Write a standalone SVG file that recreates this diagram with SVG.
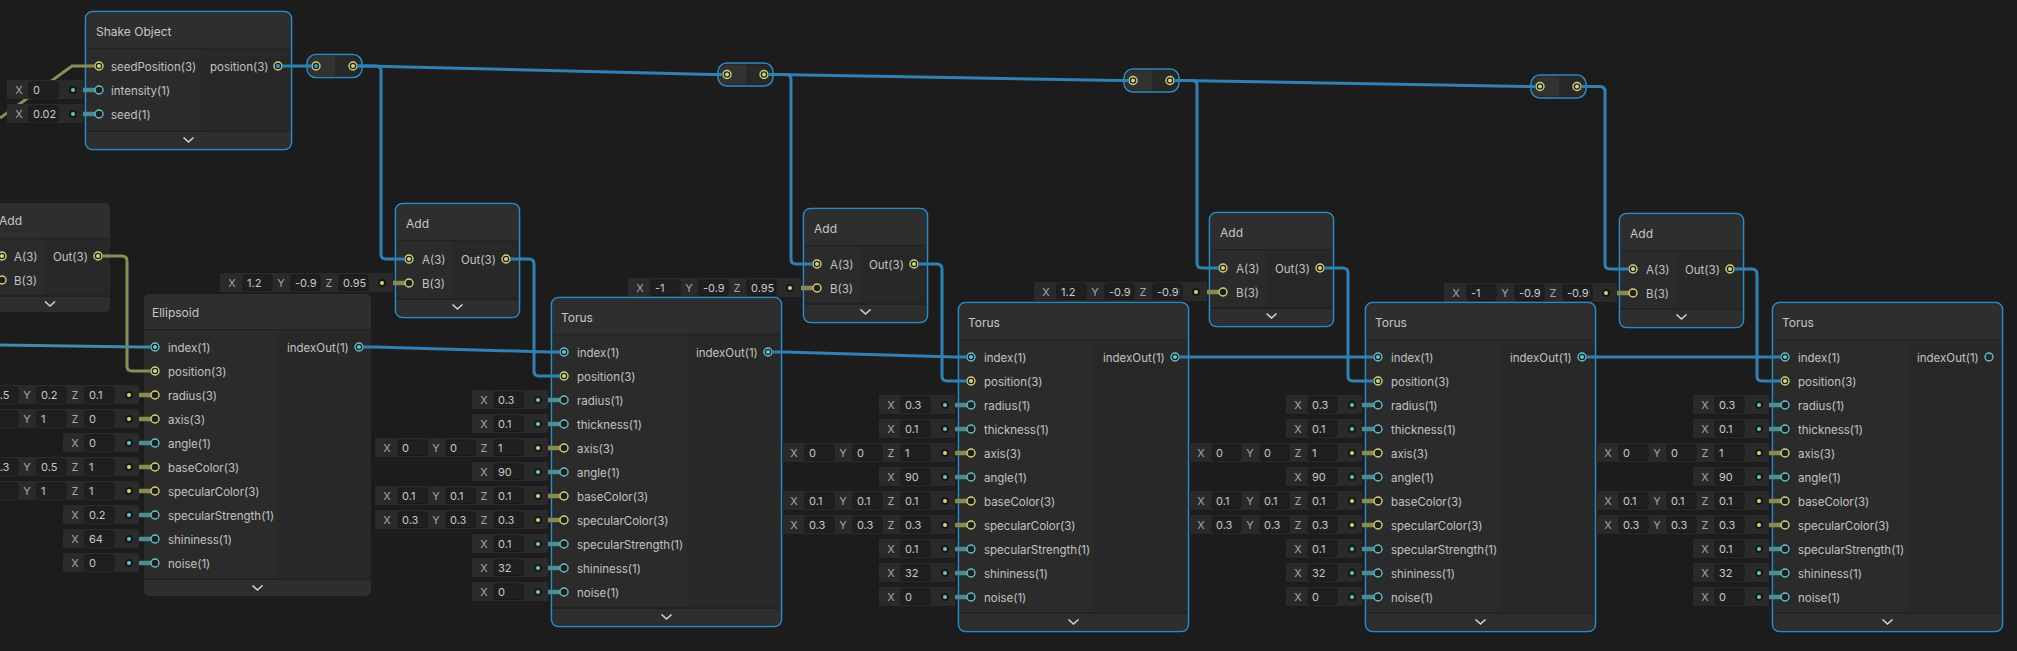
<svg xmlns="http://www.w3.org/2000/svg" width="2017" height="651" viewBox="0 0 2017 651">
<defs>
<style>
.bg{fill:#1c1c1c}
.nb{fill:#2e2e2e}
.sep{fill:#222222}
.ic{fill:#2b2b2b}
.oc{fill:#282828}
.sel{fill:none;stroke:#2f88c0;stroke-width:1.6}
.t{font-family:Inter,'Noto Sans',sans-serif;font-size:11.5px;fill:#c2c2c2}
.ti{font-family:Inter,'Noto Sans',sans-serif;font-size:12px;fill:#c6c6c6}
.ax{font-family:Inter,'Noto Sans',sans-serif;font-size:11px;fill:#a6a6a6;text-anchor:middle}
.v{font-family:Inter,'Noto Sans',sans-serif;font-size:11px;fill:#c8c8c8}
.box{fill:#2a2a2a}
.fld{fill:#1f1f1f;stroke:#181818;stroke-width:1}
.rt{fill:#1e1e1e;stroke:#64c0ca;stroke-width:1.4}
.ry{fill:#1e1e1e;stroke:#d2d37c;stroke-width:1.4}
.dt{fill:#64c0ca}
.dy{fill:#d2d37c}
.db{fill:#2f9be0}
.vd{fill:#171717}
.st{fill:none;stroke:#4a8c93;stroke-width:4.5}
.so{fill:none;stroke:#8a8a50;stroke-width:4.5}
.chev{fill:none;stroke:#d4d4d4;stroke-width:1.6}
.rl{fill:#323232}
.rr{fill:#282828}
.e{fill:none;stroke:#2f80b3;stroke-width:3;stroke-linejoin:round}
.et{fill:none;stroke:#3d8ea6;stroke-width:3}
.eo{fill:none;stroke:#8c8c55;stroke-width:3}
</style>
<clipPath id="c3"><rect x="1153" y="284" width="27" height="16"/></clipPath>
<clipPath id="c4"><rect x="1563" y="285" width="27" height="16"/></clipPath>
<mask id="m19" maskUnits="userSpaceOnUse" x="-10" y="40" width="120" height="100">
<rect x="-10" y="40" width="120" height="100" fill="#fff"/>
<rect x="7" y="80" width="76" height="19" fill="#000"/>
<rect x="7" y="104" width="76" height="19" fill="#000"/>
</mask>
</defs>
<rect class="bg" x="0" y="0" width="2017" height="651"/>

<g id="node-shake-object">
<rect class="nb" x="87" y="13" width="203" height="135" rx="5"/>
<rect class="sep" x="87" y="48" width="203" height="1.5"/>
<rect class="ic" x="87" y="49.5" width="114" height="80.5"/>
<rect class="oc" x="201" y="49.5" width="89" height="80.5"/>
<rect class="sep" x="87" y="130" width="203" height="2"/>
<rect class="sel" x="85.5" y="11.5" width="206" height="138" rx="7"/>
<text class="ti" x="96" y="36">Shake Object</text>
<path class="chev" d="M183.5,137.5 L188.5,142 L193.5,137.5"/>
<circle class="ry" cx="99" cy="66" r="4"/><circle class="dy" cx="99" cy="66" r="2"/>
<text class="t" x="111" y="71">seedPosition(3)</text>
<text class="t" x="111" y="95">intensity(1)</text>
<text class="t" x="111" y="119">seed(1)</text>
<text class="t" x="210" y="71">position(3)</text>
<circle class="ry" cx="278" cy="66" r="4"/><circle class="db" cx="278" cy="66" r="2"/>
<rect class="box" x="7" y="80" width="76" height="19"/><text class="ax" x="19" y="94">X</text><rect class="fld" x="29" y="82" width="29" height="15.5" rx="2"/><text class="v" x="33" y="94">0</text><circle class="vd" cx="73" cy="90" r="4"/><circle class="dt" cx="73" cy="90" r="2"/><path class="st" d="M83,90H95"/>
<circle class="rt" cx="99" cy="90" r="4"/>
<rect class="box" x="7" y="104" width="76" height="19"/><text class="ax" x="19" y="118">X</text><rect class="fld" x="29" y="106" width="29" height="15.5" rx="2"/><text class="v" x="33" y="118">0.02</text><circle class="vd" cx="73" cy="114" r="4"/><circle class="dt" cx="73" cy="114" r="2"/><path class="st" d="M83,114H95"/>
<circle class="rt" cx="99" cy="114" r="4"/>
</g>

<g id="node-relay-1">
<rect class="rr" x="308.5" y="56" width="52" height="20" rx="8"/>
<rect class="rl" x="308.5" y="56" width="26.5" height="20" rx="8"/>
<rect class="rl" x="327" y="56" width="8" height="20"/>
<rect class="sel" x="307" y="54.5" width="55" height="23" rx="9"/>
<circle class="ry" cx="316" cy="66" r="4"/><circle class="db" cx="316" cy="66" r="2"/>
<circle class="ry" cx="353" cy="66" r="4"/><circle class="dy" cx="353" cy="66" r="2"/>
</g>
<g id="node-relay-2">
<rect class="rr" x="719.5" y="64.5" width="52" height="20" rx="8"/>
<rect class="rl" x="719.5" y="64.5" width="26.5" height="20" rx="8"/>
<rect class="rl" x="738" y="64.5" width="8" height="20"/>
<rect class="sel" x="718" y="63" width="55" height="23" rx="9"/>
<circle class="ry" cx="727" cy="74.5" r="4"/><circle class="dy" cx="727" cy="74.5" r="2"/>
<circle class="ry" cx="764" cy="74.5" r="4"/><circle class="dy" cx="764" cy="74.5" r="2"/>
</g>
<g id="node-relay-3">
<rect class="rr" x="1125.5" y="70.5" width="52" height="20" rx="8"/>
<rect class="rl" x="1125.5" y="70.5" width="26.5" height="20" rx="8"/>
<rect class="rl" x="1144" y="70.5" width="8" height="20"/>
<rect class="sel" x="1124" y="69" width="55" height="23" rx="9"/>
<circle class="ry" cx="1133" cy="80.5" r="4"/><circle class="dy" cx="1133" cy="80.5" r="2"/>
<circle class="ry" cx="1170" cy="80.5" r="4"/><circle class="dy" cx="1170" cy="80.5" r="2"/>
</g>
<g id="node-relay-4">
<rect class="rr" x="1532.5" y="76.5" width="52" height="20" rx="8"/>
<rect class="rl" x="1532.5" y="76.5" width="26.5" height="20" rx="8"/>
<rect class="rl" x="1551" y="76.5" width="8" height="20"/>
<rect class="sel" x="1531" y="75" width="55" height="23" rx="9"/>
<circle class="ry" cx="1540" cy="86.5" r="4"/><circle class="dy" cx="1540" cy="86.5" r="2"/>
<circle class="ry" cx="1577" cy="86.5" r="4"/><circle class="dy" cx="1577" cy="86.5" r="2"/>
</g>

<g id="node-add-0">
<rect class="nb" x="-14" y="203" width="124" height="109" rx="5"/>
<rect class="sep" x="-14" y="238" width="124" height="1.5"/>
<rect class="ic" x="-14" y="239.5" width="58" height="55.5"/>
<rect class="oc" x="44" y="239.5" width="66" height="55.5"/>
<rect class="sep" x="-14" y="295" width="124" height="2"/>
<text class="ti" x="-1" y="225">Add</text>
<path class="chev" d="M45,301.5 L50,306 L55,301.5"/>
<circle class="ry" cx="2" cy="256" r="4"/><circle class="dy" cx="2" cy="256" r="2"/>
<text class="t" x="14" y="261">A(3)</text>
<circle class="ry" cx="2" cy="280" r="4"/>
<text class="t" x="14" y="285">B(3)</text>
<text class="t" x="53" y="261">Out(3)</text>
<circle class="ry" cx="98" cy="256" r="4"/><circle class="dy" cx="98" cy="256" r="2"/>
</g>

<g id="node-ellipsoid">
<rect class="nb" x="144" y="294" width="227" height="302" rx="5"/>
<rect class="sep" x="144" y="329" width="227" height="1.5"/>
<rect class="ic" x="144" y="330.5" width="134" height="247.5"/>
<rect class="oc" x="278" y="330.5" width="93" height="247.5"/>
<rect class="sep" x="144" y="578" width="227" height="2"/>
<text class="ti" x="152" y="317">Ellipsoid</text>
<path class="chev" d="M252.5,585.5 L257.5,590 L262.5,585.5"/>
<text class="t" x="168" y="352">index(1)</text>
<text class="t" x="168" y="376">position(3)</text>
<text class="t" x="168" y="400">radius(3)</text>
<text class="t" x="168" y="424">axis(3)</text>
<text class="t" x="168" y="448">angle(1)</text>
<text class="t" x="168" y="472">baseColor(3)</text>
<text class="t" x="168" y="496">specularColor(3)</text>
<text class="t" x="168" y="520">specularStrength(1)</text>
<text class="t" x="168" y="544">shininess(1)</text>
<text class="t" x="168" y="568">noise(1)</text>
<text class="t" x="287" y="352">indexOut(1)</text>
<circle class="rt" cx="359" cy="347" r="4"/><circle class="dt" cx="359" cy="347" r="2"/>
<circle class="rt" cx="155" cy="347" r="4"/><circle class="dt" cx="155" cy="347" r="2"/>
<circle class="ry" cx="155" cy="371" r="4"/><circle class="dy" cx="155" cy="371" r="2"/>
<rect class="box" x="-34" y="385" width="173" height="19"/><text class="ax" x="-22" y="399">X</text><rect class="fld" x="-11" y="387" width="29" height="15.5" rx="2"/><text class="v" x="-7" y="399">0.5</text><text class="ax" x="27" y="399">Y</text><rect class="fld" x="37" y="387" width="29" height="15.5" rx="2"/><text class="v" x="41" y="399">0.2</text><text class="ax" x="75" y="399">Z</text><rect class="fld" x="85" y="387" width="29" height="15.5" rx="2"/><text class="v" x="89" y="399">0.1</text><circle class="vd" cx="129" cy="395" r="4"/><circle class="dy" cx="129" cy="395" r="2"/><path class="so" d="M139,395H151"/>
<circle class="ry" cx="155" cy="395" r="4"/>
<rect class="box" x="-34" y="409" width="173" height="19"/><text class="ax" x="-22" y="423">X</text><rect class="fld" x="-11" y="411" width="29" height="15.5" rx="2"/><text class="v" x="-7" y="423">0</text><text class="ax" x="27" y="423">Y</text><rect class="fld" x="37" y="411" width="29" height="15.5" rx="2"/><text class="v" x="41" y="423">1</text><text class="ax" x="75" y="423">Z</text><rect class="fld" x="85" y="411" width="29" height="15.5" rx="2"/><text class="v" x="89" y="423">0</text><circle class="vd" cx="129" cy="419" r="4"/><circle class="dy" cx="129" cy="419" r="2"/><path class="so" d="M139,419H151"/>
<circle class="ry" cx="155" cy="419" r="4"/>
<rect class="box" x="63" y="433" width="76" height="19"/><text class="ax" x="75" y="447">X</text><rect class="fld" x="85" y="435" width="29" height="15.5" rx="2"/><text class="v" x="89" y="447">0</text><circle class="vd" cx="129" cy="443" r="4"/><circle class="dt" cx="129" cy="443" r="2"/><path class="st" d="M139,443H151"/>
<circle class="rt" cx="155" cy="443" r="4"/>
<rect class="box" x="-34" y="457" width="173" height="19"/><text class="ax" x="-22" y="471">X</text><rect class="fld" x="-11" y="459" width="29" height="15.5" rx="2"/><text class="v" x="-7" y="471">0.3</text><text class="ax" x="27" y="471">Y</text><rect class="fld" x="37" y="459" width="29" height="15.5" rx="2"/><text class="v" x="41" y="471">0.5</text><text class="ax" x="75" y="471">Z</text><rect class="fld" x="85" y="459" width="29" height="15.5" rx="2"/><text class="v" x="89" y="471">1</text><circle class="vd" cx="129" cy="467" r="4"/><circle class="dy" cx="129" cy="467" r="2"/><path class="so" d="M139,467H151"/>
<circle class="ry" cx="155" cy="467" r="4"/>
<rect class="box" x="-34" y="481" width="173" height="19"/><text class="ax" x="-22" y="495">X</text><rect class="fld" x="-11" y="483" width="29" height="15.5" rx="2"/><text class="v" x="-7" y="495">1</text><text class="ax" x="27" y="495">Y</text><rect class="fld" x="37" y="483" width="29" height="15.5" rx="2"/><text class="v" x="41" y="495">1</text><text class="ax" x="75" y="495">Z</text><rect class="fld" x="85" y="483" width="29" height="15.5" rx="2"/><text class="v" x="89" y="495">1</text><circle class="vd" cx="129" cy="491" r="4"/><circle class="dy" cx="129" cy="491" r="2"/><path class="so" d="M139,491H151"/>
<circle class="ry" cx="155" cy="491" r="4"/>
<rect class="box" x="63" y="505" width="76" height="19"/><text class="ax" x="75" y="519">X</text><rect class="fld" x="85" y="507" width="29" height="15.5" rx="2"/><text class="v" x="89" y="519">0.2</text><circle class="vd" cx="129" cy="515" r="4"/><circle class="dt" cx="129" cy="515" r="2"/><path class="st" d="M139,515H151"/>
<circle class="rt" cx="155" cy="515" r="4"/>
<rect class="box" x="63" y="529" width="76" height="19"/><text class="ax" x="75" y="543">X</text><rect class="fld" x="85" y="531" width="29" height="15.5" rx="2"/><text class="v" x="89" y="543">64</text><circle class="vd" cx="129" cy="539" r="4"/><circle class="dt" cx="129" cy="539" r="2"/><path class="st" d="M139,539H151"/>
<circle class="rt" cx="155" cy="539" r="4"/>
<rect class="box" x="63" y="553" width="76" height="19"/><text class="ax" x="75" y="567">X</text><rect class="fld" x="85" y="555" width="29" height="15.5" rx="2"/><text class="v" x="89" y="567">0</text><circle class="vd" cx="129" cy="563" r="4"/><circle class="dt" cx="129" cy="563" r="2"/><path class="st" d="M139,563H151"/>
<circle class="rt" cx="155" cy="563" r="4"/>
</g>

<g id="node-add-1">
<rect class="nb" x="397" y="205" width="121" height="111" rx="5"/>
<rect class="sep" x="397" y="240" width="121" height="1.5"/>
<rect class="ic" x="397" y="241.5" width="55" height="56.5"/>
<rect class="oc" x="452" y="241.5" width="66" height="56.5"/>
<rect class="sep" x="397" y="298" width="121" height="2"/>
<rect class="sel" x="395.5" y="203.5" width="124" height="114" rx="7"/>
<text class="ti" x="406" y="228">Add</text>
<path class="chev" d="M452.5,304.5 L457.5,309 L462.5,304.5"/>
<circle class="ry" cx="409" cy="259" r="4"/><circle class="dy" cx="409" cy="259" r="2"/>
<text class="t" x="422" y="264">A(3)</text>
<text class="t" x="422" y="288">B(3)</text>
<text class="t" x="461" y="264">Out(3)</text>
<circle class="ry" cx="506" cy="259" r="4"/><circle class="dy" cx="506" cy="259" r="2"/>
<rect class="box" x="220" y="273" width="173" height="19"/><text class="ax" x="232" y="287">X</text><rect class="fld" x="243" y="275" width="29" height="15.5" rx="2"/><text class="v" x="247" y="287">1.2</text><text class="ax" x="281" y="287">Y</text><rect class="fld" x="291" y="275" width="29" height="15.5" rx="2"/><text class="v" x="295" y="287">-0.9</text><text class="ax" x="329" y="287">Z</text><rect class="fld" x="339" y="275" width="29" height="15.5" rx="2"/><text class="v" x="343" y="287">0.95</text><circle class="vd" cx="382" cy="283" r="4"/><circle class="dy" cx="382" cy="283" r="2"/><path class="so" d="M393,283H405"/>
<circle class="ry" cx="409" cy="283" r="4"/>
</g>

<g id="node-add-2">
<rect class="nb" x="805" y="210" width="121" height="111" rx="5"/>
<rect class="sep" x="805" y="245" width="121" height="1.5"/>
<rect class="ic" x="805" y="246.5" width="55" height="56.5"/>
<rect class="oc" x="860" y="246.5" width="66" height="56.5"/>
<rect class="sep" x="805" y="303" width="121" height="2"/>
<rect class="sel" x="803.5" y="208.5" width="124" height="114" rx="7"/>
<text class="ti" x="814" y="233">Add</text>
<path class="chev" d="M860.5,309.5 L865.5,314 L870.5,309.5"/>
<circle class="ry" cx="817" cy="264" r="4"/><circle class="dy" cx="817" cy="264" r="2"/>
<text class="t" x="830" y="269">A(3)</text>
<text class="t" x="830" y="293">B(3)</text>
<text class="t" x="869" y="269">Out(3)</text>
<circle class="ry" cx="914" cy="264" r="4"/><circle class="dy" cx="914" cy="264" r="2"/>
<rect class="box" x="628" y="278" width="173" height="19"/><text class="ax" x="640" y="292">X</text><rect class="fld" x="651" y="280" width="29" height="15.5" rx="2"/><text class="v" x="655" y="292">-1</text><text class="ax" x="689" y="292">Y</text><rect class="fld" x="699" y="280" width="29" height="15.5" rx="2"/><text class="v" x="703" y="292">-0.9</text><text class="ax" x="737" y="292">Z</text><rect class="fld" x="747" y="280" width="29" height="15.5" rx="2"/><text class="v" x="751" y="292">0.95</text><circle class="vd" cx="790" cy="288" r="4"/><circle class="dy" cx="790" cy="288" r="2"/><path class="so" d="M801,288H813"/>
<circle class="ry" cx="817" cy="288" r="4"/>
</g>

<g id="node-add-3">
<rect class="nb" x="1211" y="214" width="121" height="111" rx="5"/>
<rect class="sep" x="1211" y="249" width="121" height="1.5"/>
<rect class="ic" x="1211" y="250.5" width="55" height="56.5"/>
<rect class="oc" x="1266" y="250.5" width="66" height="56.5"/>
<rect class="sep" x="1211" y="307" width="121" height="2"/>
<rect class="sel" x="1209.5" y="212.5" width="124" height="114" rx="7"/>
<text class="ti" x="1220" y="237">Add</text>
<path class="chev" d="M1266.5,313.5 L1271.5,318 L1276.5,313.5"/>
<circle class="ry" cx="1223" cy="268" r="4"/><circle class="dy" cx="1223" cy="268" r="2"/>
<text class="t" x="1236" y="273">A(3)</text>
<text class="t" x="1236" y="297">B(3)</text>
<text class="t" x="1275" y="273">Out(3)</text>
<circle class="ry" cx="1320" cy="268" r="4"/><circle class="dy" cx="1320" cy="268" r="2"/>
<rect class="box" x="1034" y="282" width="173" height="19"/><text class="ax" x="1046" y="296">X</text><rect class="fld" x="1057" y="284" width="29" height="15.5" rx="2"/><text class="v" x="1061" y="296">1.2</text><text class="ax" x="1095" y="296">Y</text><rect class="fld" x="1105" y="284" width="29" height="15.5" rx="2"/><text class="v" x="1109" y="296">-0.9</text><text class="ax" x="1143" y="296">Z</text><rect class="fld" x="1153" y="284" width="29" height="15.5" rx="2"/><text class="v" x="1157" y="296" clip-path="url(#c3)">-0.95</text><circle class="vd" cx="1196" cy="292" r="4"/><circle class="dy" cx="1196" cy="292" r="2"/><path class="so" d="M1207,292H1219"/>
<circle class="ry" cx="1223" cy="292" r="4"/>
</g>

<g id="node-add-4">
<rect class="nb" x="1621" y="215" width="121" height="111" rx="5"/>
<rect class="sep" x="1621" y="250" width="121" height="1.5"/>
<rect class="ic" x="1621" y="251.5" width="55" height="56.5"/>
<rect class="oc" x="1676" y="251.5" width="66" height="56.5"/>
<rect class="sep" x="1621" y="308" width="121" height="2"/>
<rect class="sel" x="1619.5" y="213.5" width="124" height="114" rx="7"/>
<text class="ti" x="1630" y="238">Add</text>
<path class="chev" d="M1676.5,314.5 L1681.5,319 L1686.5,314.5"/>
<circle class="ry" cx="1633" cy="269" r="4"/><circle class="dy" cx="1633" cy="269" r="2"/>
<text class="t" x="1646" y="274">A(3)</text>
<text class="t" x="1646" y="298">B(3)</text>
<text class="t" x="1685" y="274">Out(3)</text>
<circle class="ry" cx="1730" cy="269" r="4"/><circle class="dy" cx="1730" cy="269" r="2"/>
<rect class="box" x="1444" y="283" width="173" height="19"/><text class="ax" x="1456" y="297">X</text><rect class="fld" x="1467" y="285" width="29" height="15.5" rx="2"/><text class="v" x="1471" y="297">-1</text><text class="ax" x="1505" y="297">Y</text><rect class="fld" x="1515" y="285" width="29" height="15.5" rx="2"/><text class="v" x="1519" y="297">-0.9</text><text class="ax" x="1553" y="297">Z</text><rect class="fld" x="1563" y="285" width="29" height="15.5" rx="2"/><text class="v" x="1567" y="297" clip-path="url(#c4)">-0.95</text><circle class="vd" cx="1606" cy="293" r="4"/><circle class="dy" cx="1606" cy="293" r="2"/><path class="so" d="M1617,293H1629"/>
<circle class="ry" cx="1633" cy="293" r="4"/>
</g>

<g id="node-torus-1">
<rect class="nb" x="553" y="299" width="227" height="326" rx="5"/>
<rect class="sep" x="553" y="334" width="227" height="1.5"/>
<rect class="ic" x="553" y="335.5" width="134" height="271.5"/>
<rect class="oc" x="687" y="335.5" width="93" height="271.5"/>
<rect class="sep" x="553" y="607" width="227" height="2"/>
<rect class="sel" x="551.5" y="297.5" width="230" height="329" rx="7"/>
<text class="ti" x="561" y="322">Torus</text>
<path class="chev" d="M661.5,614.5 L666.5,619 L671.5,614.5"/>
<text class="t" x="577" y="357">index(1)</text>
<text class="t" x="577" y="381">position(3)</text>
<text class="t" x="577" y="405">radius(1)</text>
<text class="t" x="577" y="429">thickness(1)</text>
<text class="t" x="577" y="453">axis(3)</text>
<text class="t" x="577" y="477">angle(1)</text>
<text class="t" x="577" y="501">baseColor(3)</text>
<text class="t" x="577" y="525">specularColor(3)</text>
<text class="t" x="577" y="549">specularStrength(1)</text>
<text class="t" x="577" y="573">shininess(1)</text>
<text class="t" x="577" y="597">noise(1)</text>
<text class="t" x="696" y="357">indexOut(1)</text>
<circle class="rt" cx="768" cy="352" r="4"/><circle class="dt" cx="768" cy="352" r="2"/>
<circle class="rt" cx="564" cy="352" r="4"/><circle class="dt" cx="564" cy="352" r="2"/>
<circle class="ry" cx="564" cy="376" r="4"/><circle class="dy" cx="564" cy="376" r="2"/>
<rect class="box" x="472" y="390" width="76" height="19"/><text class="ax" x="484" y="404">X</text><rect class="fld" x="494" y="392" width="29" height="15.5" rx="2"/><text class="v" x="498" y="404">0.3</text><circle class="vd" cx="538" cy="400" r="4"/><circle class="dt" cx="538" cy="400" r="2"/><path class="st" d="M548,400H560"/>
<circle class="rt" cx="564" cy="400" r="4"/>
<rect class="box" x="472" y="414" width="76" height="19"/><text class="ax" x="484" y="428">X</text><rect class="fld" x="494" y="416" width="29" height="15.5" rx="2"/><text class="v" x="498" y="428">0.1</text><circle class="vd" cx="538" cy="424" r="4"/><circle class="dt" cx="538" cy="424" r="2"/><path class="st" d="M548,424H560"/>
<circle class="rt" cx="564" cy="424" r="4"/>
<rect class="box" x="375" y="438" width="173" height="19"/><text class="ax" x="387" y="452">X</text><rect class="fld" x="398" y="440" width="29" height="15.5" rx="2"/><text class="v" x="402" y="452">0</text><text class="ax" x="436" y="452">Y</text><rect class="fld" x="446" y="440" width="29" height="15.5" rx="2"/><text class="v" x="450" y="452">0</text><text class="ax" x="484" y="452">Z</text><rect class="fld" x="494" y="440" width="29" height="15.5" rx="2"/><text class="v" x="498" y="452">1</text><circle class="vd" cx="538" cy="448" r="4"/><circle class="dy" cx="538" cy="448" r="2"/><path class="so" d="M548,448H560"/>
<circle class="ry" cx="564" cy="448" r="4"/>
<rect class="box" x="472" y="462" width="76" height="19"/><text class="ax" x="484" y="476">X</text><rect class="fld" x="494" y="464" width="29" height="15.5" rx="2"/><text class="v" x="498" y="476">90</text><circle class="vd" cx="538" cy="472" r="4"/><circle class="dt" cx="538" cy="472" r="2"/><path class="st" d="M548,472H560"/>
<circle class="rt" cx="564" cy="472" r="4"/>
<rect class="box" x="375" y="486" width="173" height="19"/><text class="ax" x="387" y="500">X</text><rect class="fld" x="398" y="488" width="29" height="15.5" rx="2"/><text class="v" x="402" y="500">0.1</text><text class="ax" x="436" y="500">Y</text><rect class="fld" x="446" y="488" width="29" height="15.5" rx="2"/><text class="v" x="450" y="500">0.1</text><text class="ax" x="484" y="500">Z</text><rect class="fld" x="494" y="488" width="29" height="15.5" rx="2"/><text class="v" x="498" y="500">0.1</text><circle class="vd" cx="538" cy="496" r="4"/><circle class="dy" cx="538" cy="496" r="2"/><path class="so" d="M548,496H560"/>
<circle class="ry" cx="564" cy="496" r="4"/>
<rect class="box" x="375" y="510" width="173" height="19"/><text class="ax" x="387" y="524">X</text><rect class="fld" x="398" y="512" width="29" height="15.5" rx="2"/><text class="v" x="402" y="524">0.3</text><text class="ax" x="436" y="524">Y</text><rect class="fld" x="446" y="512" width="29" height="15.5" rx="2"/><text class="v" x="450" y="524">0.3</text><text class="ax" x="484" y="524">Z</text><rect class="fld" x="494" y="512" width="29" height="15.5" rx="2"/><text class="v" x="498" y="524">0.3</text><circle class="vd" cx="538" cy="520" r="4"/><circle class="dy" cx="538" cy="520" r="2"/><path class="so" d="M548,520H560"/>
<circle class="ry" cx="564" cy="520" r="4"/>
<rect class="box" x="472" y="534" width="76" height="19"/><text class="ax" x="484" y="548">X</text><rect class="fld" x="494" y="536" width="29" height="15.5" rx="2"/><text class="v" x="498" y="548">0.1</text><circle class="vd" cx="538" cy="544" r="4"/><circle class="dt" cx="538" cy="544" r="2"/><path class="st" d="M548,544H560"/>
<circle class="rt" cx="564" cy="544" r="4"/>
<rect class="box" x="472" y="558" width="76" height="19"/><text class="ax" x="484" y="572">X</text><rect class="fld" x="494" y="560" width="29" height="15.5" rx="2"/><text class="v" x="498" y="572">32</text><circle class="vd" cx="538" cy="568" r="4"/><circle class="dt" cx="538" cy="568" r="2"/><path class="st" d="M548,568H560"/>
<circle class="rt" cx="564" cy="568" r="4"/>
<rect class="box" x="472" y="582" width="76" height="19"/><text class="ax" x="484" y="596">X</text><rect class="fld" x="494" y="584" width="29" height="15.5" rx="2"/><text class="v" x="498" y="596">0</text><circle class="vd" cx="538" cy="592" r="4"/><circle class="dt" cx="538" cy="592" r="2"/><path class="st" d="M548,592H560"/>
<circle class="rt" cx="564" cy="592" r="4"/>
</g>

<g id="node-torus-2">
<rect class="nb" x="960" y="304" width="227" height="326" rx="5"/>
<rect class="sep" x="960" y="339" width="227" height="1.5"/>
<rect class="ic" x="960" y="340.5" width="134" height="271.5"/>
<rect class="oc" x="1094" y="340.5" width="93" height="271.5"/>
<rect class="sep" x="960" y="612" width="227" height="2"/>
<rect class="sel" x="958.5" y="302.5" width="230" height="329" rx="7"/>
<text class="ti" x="968" y="327">Torus</text>
<path class="chev" d="M1068.5,619.5 L1073.5,624 L1078.5,619.5"/>
<text class="t" x="984" y="362">index(1)</text>
<text class="t" x="984" y="386">position(3)</text>
<text class="t" x="984" y="410">radius(1)</text>
<text class="t" x="984" y="434">thickness(1)</text>
<text class="t" x="984" y="458">axis(3)</text>
<text class="t" x="984" y="482">angle(1)</text>
<text class="t" x="984" y="506">baseColor(3)</text>
<text class="t" x="984" y="530">specularColor(3)</text>
<text class="t" x="984" y="554">specularStrength(1)</text>
<text class="t" x="984" y="578">shininess(1)</text>
<text class="t" x="984" y="602">noise(1)</text>
<text class="t" x="1103" y="362">indexOut(1)</text>
<circle class="rt" cx="1175" cy="357" r="4"/><circle class="dt" cx="1175" cy="357" r="2"/>
<circle class="rt" cx="971" cy="357" r="4"/><circle class="dt" cx="971" cy="357" r="2"/>
<circle class="ry" cx="971" cy="381" r="4"/><circle class="dy" cx="971" cy="381" r="2"/>
<rect class="box" x="879" y="395" width="76" height="19"/><text class="ax" x="891" y="409">X</text><rect class="fld" x="901" y="397" width="29" height="15.5" rx="2"/><text class="v" x="905" y="409">0.3</text><circle class="vd" cx="945" cy="405" r="4"/><circle class="dt" cx="945" cy="405" r="2"/><path class="st" d="M955,405H967"/>
<circle class="rt" cx="971" cy="405" r="4"/>
<rect class="box" x="879" y="419" width="76" height="19"/><text class="ax" x="891" y="433">X</text><rect class="fld" x="901" y="421" width="29" height="15.5" rx="2"/><text class="v" x="905" y="433">0.1</text><circle class="vd" cx="945" cy="429" r="4"/><circle class="dt" cx="945" cy="429" r="2"/><path class="st" d="M955,429H967"/>
<circle class="rt" cx="971" cy="429" r="4"/>
<rect class="box" x="782" y="443" width="173" height="19"/><text class="ax" x="794" y="457">X</text><rect class="fld" x="805" y="445" width="29" height="15.5" rx="2"/><text class="v" x="809" y="457">0</text><text class="ax" x="843" y="457">Y</text><rect class="fld" x="853" y="445" width="29" height="15.5" rx="2"/><text class="v" x="857" y="457">0</text><text class="ax" x="891" y="457">Z</text><rect class="fld" x="901" y="445" width="29" height="15.5" rx="2"/><text class="v" x="905" y="457">1</text><circle class="vd" cx="945" cy="453" r="4"/><circle class="dy" cx="945" cy="453" r="2"/><path class="so" d="M955,453H967"/>
<circle class="ry" cx="971" cy="453" r="4"/>
<rect class="box" x="879" y="467" width="76" height="19"/><text class="ax" x="891" y="481">X</text><rect class="fld" x="901" y="469" width="29" height="15.5" rx="2"/><text class="v" x="905" y="481">90</text><circle class="vd" cx="945" cy="477" r="4"/><circle class="dt" cx="945" cy="477" r="2"/><path class="st" d="M955,477H967"/>
<circle class="rt" cx="971" cy="477" r="4"/>
<rect class="box" x="782" y="491" width="173" height="19"/><text class="ax" x="794" y="505">X</text><rect class="fld" x="805" y="493" width="29" height="15.5" rx="2"/><text class="v" x="809" y="505">0.1</text><text class="ax" x="843" y="505">Y</text><rect class="fld" x="853" y="493" width="29" height="15.5" rx="2"/><text class="v" x="857" y="505">0.1</text><text class="ax" x="891" y="505">Z</text><rect class="fld" x="901" y="493" width="29" height="15.5" rx="2"/><text class="v" x="905" y="505">0.1</text><circle class="vd" cx="945" cy="501" r="4"/><circle class="dy" cx="945" cy="501" r="2"/><path class="so" d="M955,501H967"/>
<circle class="ry" cx="971" cy="501" r="4"/>
<rect class="box" x="782" y="515" width="173" height="19"/><text class="ax" x="794" y="529">X</text><rect class="fld" x="805" y="517" width="29" height="15.5" rx="2"/><text class="v" x="809" y="529">0.3</text><text class="ax" x="843" y="529">Y</text><rect class="fld" x="853" y="517" width="29" height="15.5" rx="2"/><text class="v" x="857" y="529">0.3</text><text class="ax" x="891" y="529">Z</text><rect class="fld" x="901" y="517" width="29" height="15.5" rx="2"/><text class="v" x="905" y="529">0.3</text><circle class="vd" cx="945" cy="525" r="4"/><circle class="dy" cx="945" cy="525" r="2"/><path class="so" d="M955,525H967"/>
<circle class="ry" cx="971" cy="525" r="4"/>
<rect class="box" x="879" y="539" width="76" height="19"/><text class="ax" x="891" y="553">X</text><rect class="fld" x="901" y="541" width="29" height="15.5" rx="2"/><text class="v" x="905" y="553">0.1</text><circle class="vd" cx="945" cy="549" r="4"/><circle class="dt" cx="945" cy="549" r="2"/><path class="st" d="M955,549H967"/>
<circle class="rt" cx="971" cy="549" r="4"/>
<rect class="box" x="879" y="563" width="76" height="19"/><text class="ax" x="891" y="577">X</text><rect class="fld" x="901" y="565" width="29" height="15.5" rx="2"/><text class="v" x="905" y="577">32</text><circle class="vd" cx="945" cy="573" r="4"/><circle class="dt" cx="945" cy="573" r="2"/><path class="st" d="M955,573H967"/>
<circle class="rt" cx="971" cy="573" r="4"/>
<rect class="box" x="879" y="587" width="76" height="19"/><text class="ax" x="891" y="601">X</text><rect class="fld" x="901" y="589" width="29" height="15.5" rx="2"/><text class="v" x="905" y="601">0</text><circle class="vd" cx="945" cy="597" r="4"/><circle class="dt" cx="945" cy="597" r="2"/><path class="st" d="M955,597H967"/>
<circle class="rt" cx="971" cy="597" r="4"/>
</g>

<g id="node-torus-3">
<rect class="nb" x="1367" y="304" width="227" height="326" rx="5"/>
<rect class="sep" x="1367" y="339" width="227" height="1.5"/>
<rect class="ic" x="1367" y="340.5" width="134" height="271.5"/>
<rect class="oc" x="1501" y="340.5" width="93" height="271.5"/>
<rect class="sep" x="1367" y="612" width="227" height="2"/>
<rect class="sel" x="1365.5" y="302.5" width="230" height="329" rx="7"/>
<text class="ti" x="1375" y="327">Torus</text>
<path class="chev" d="M1475.5,619.5 L1480.5,624 L1485.5,619.5"/>
<text class="t" x="1391" y="362">index(1)</text>
<text class="t" x="1391" y="386">position(3)</text>
<text class="t" x="1391" y="410">radius(1)</text>
<text class="t" x="1391" y="434">thickness(1)</text>
<text class="t" x="1391" y="458">axis(3)</text>
<text class="t" x="1391" y="482">angle(1)</text>
<text class="t" x="1391" y="506">baseColor(3)</text>
<text class="t" x="1391" y="530">specularColor(3)</text>
<text class="t" x="1391" y="554">specularStrength(1)</text>
<text class="t" x="1391" y="578">shininess(1)</text>
<text class="t" x="1391" y="602">noise(1)</text>
<text class="t" x="1510" y="362">indexOut(1)</text>
<circle class="rt" cx="1582" cy="357" r="4"/><circle class="dt" cx="1582" cy="357" r="2"/>
<circle class="rt" cx="1378" cy="357" r="4"/><circle class="dt" cx="1378" cy="357" r="2"/>
<circle class="ry" cx="1378" cy="381" r="4"/><circle class="dy" cx="1378" cy="381" r="2"/>
<rect class="box" x="1286" y="395" width="76" height="19"/><text class="ax" x="1298" y="409">X</text><rect class="fld" x="1308" y="397" width="29" height="15.5" rx="2"/><text class="v" x="1312" y="409">0.3</text><circle class="vd" cx="1352" cy="405" r="4"/><circle class="dt" cx="1352" cy="405" r="2"/><path class="st" d="M1362,405H1374"/>
<circle class="rt" cx="1378" cy="405" r="4"/>
<rect class="box" x="1286" y="419" width="76" height="19"/><text class="ax" x="1298" y="433">X</text><rect class="fld" x="1308" y="421" width="29" height="15.5" rx="2"/><text class="v" x="1312" y="433">0.1</text><circle class="vd" cx="1352" cy="429" r="4"/><circle class="dt" cx="1352" cy="429" r="2"/><path class="st" d="M1362,429H1374"/>
<circle class="rt" cx="1378" cy="429" r="4"/>
<rect class="box" x="1189" y="443" width="173" height="19"/><text class="ax" x="1201" y="457">X</text><rect class="fld" x="1212" y="445" width="29" height="15.5" rx="2"/><text class="v" x="1216" y="457">0</text><text class="ax" x="1250" y="457">Y</text><rect class="fld" x="1260" y="445" width="29" height="15.5" rx="2"/><text class="v" x="1264" y="457">0</text><text class="ax" x="1298" y="457">Z</text><rect class="fld" x="1308" y="445" width="29" height="15.5" rx="2"/><text class="v" x="1312" y="457">1</text><circle class="vd" cx="1352" cy="453" r="4"/><circle class="dy" cx="1352" cy="453" r="2"/><path class="so" d="M1362,453H1374"/>
<circle class="ry" cx="1378" cy="453" r="4"/>
<rect class="box" x="1286" y="467" width="76" height="19"/><text class="ax" x="1298" y="481">X</text><rect class="fld" x="1308" y="469" width="29" height="15.5" rx="2"/><text class="v" x="1312" y="481">90</text><circle class="vd" cx="1352" cy="477" r="4"/><circle class="dt" cx="1352" cy="477" r="2"/><path class="st" d="M1362,477H1374"/>
<circle class="rt" cx="1378" cy="477" r="4"/>
<rect class="box" x="1189" y="491" width="173" height="19"/><text class="ax" x="1201" y="505">X</text><rect class="fld" x="1212" y="493" width="29" height="15.5" rx="2"/><text class="v" x="1216" y="505">0.1</text><text class="ax" x="1250" y="505">Y</text><rect class="fld" x="1260" y="493" width="29" height="15.5" rx="2"/><text class="v" x="1264" y="505">0.1</text><text class="ax" x="1298" y="505">Z</text><rect class="fld" x="1308" y="493" width="29" height="15.5" rx="2"/><text class="v" x="1312" y="505">0.1</text><circle class="vd" cx="1352" cy="501" r="4"/><circle class="dy" cx="1352" cy="501" r="2"/><path class="so" d="M1362,501H1374"/>
<circle class="ry" cx="1378" cy="501" r="4"/>
<rect class="box" x="1189" y="515" width="173" height="19"/><text class="ax" x="1201" y="529">X</text><rect class="fld" x="1212" y="517" width="29" height="15.5" rx="2"/><text class="v" x="1216" y="529">0.3</text><text class="ax" x="1250" y="529">Y</text><rect class="fld" x="1260" y="517" width="29" height="15.5" rx="2"/><text class="v" x="1264" y="529">0.3</text><text class="ax" x="1298" y="529">Z</text><rect class="fld" x="1308" y="517" width="29" height="15.5" rx="2"/><text class="v" x="1312" y="529">0.3</text><circle class="vd" cx="1352" cy="525" r="4"/><circle class="dy" cx="1352" cy="525" r="2"/><path class="so" d="M1362,525H1374"/>
<circle class="ry" cx="1378" cy="525" r="4"/>
<rect class="box" x="1286" y="539" width="76" height="19"/><text class="ax" x="1298" y="553">X</text><rect class="fld" x="1308" y="541" width="29" height="15.5" rx="2"/><text class="v" x="1312" y="553">0.1</text><circle class="vd" cx="1352" cy="549" r="4"/><circle class="dt" cx="1352" cy="549" r="2"/><path class="st" d="M1362,549H1374"/>
<circle class="rt" cx="1378" cy="549" r="4"/>
<rect class="box" x="1286" y="563" width="76" height="19"/><text class="ax" x="1298" y="577">X</text><rect class="fld" x="1308" y="565" width="29" height="15.5" rx="2"/><text class="v" x="1312" y="577">32</text><circle class="vd" cx="1352" cy="573" r="4"/><circle class="dt" cx="1352" cy="573" r="2"/><path class="st" d="M1362,573H1374"/>
<circle class="rt" cx="1378" cy="573" r="4"/>
<rect class="box" x="1286" y="587" width="76" height="19"/><text class="ax" x="1298" y="601">X</text><rect class="fld" x="1308" y="589" width="29" height="15.5" rx="2"/><text class="v" x="1312" y="601">0</text><circle class="vd" cx="1352" cy="597" r="4"/><circle class="dt" cx="1352" cy="597" r="2"/><path class="st" d="M1362,597H1374"/>
<circle class="rt" cx="1378" cy="597" r="4"/>
</g>

<g id="node-torus-4">
<rect class="nb" x="1774" y="304" width="227" height="326" rx="5"/>
<rect class="sep" x="1774" y="339" width="227" height="1.5"/>
<rect class="ic" x="1774" y="340.5" width="134" height="271.5"/>
<rect class="oc" x="1908" y="340.5" width="93" height="271.5"/>
<rect class="sep" x="1774" y="612" width="227" height="2"/>
<rect class="sel" x="1772.5" y="302.5" width="230" height="329" rx="7"/>
<text class="ti" x="1782" y="327">Torus</text>
<path class="chev" d="M1882.5,619.5 L1887.5,624 L1892.5,619.5"/>
<text class="t" x="1798" y="362">index(1)</text>
<text class="t" x="1798" y="386">position(3)</text>
<text class="t" x="1798" y="410">radius(1)</text>
<text class="t" x="1798" y="434">thickness(1)</text>
<text class="t" x="1798" y="458">axis(3)</text>
<text class="t" x="1798" y="482">angle(1)</text>
<text class="t" x="1798" y="506">baseColor(3)</text>
<text class="t" x="1798" y="530">specularColor(3)</text>
<text class="t" x="1798" y="554">specularStrength(1)</text>
<text class="t" x="1798" y="578">shininess(1)</text>
<text class="t" x="1798" y="602">noise(1)</text>
<text class="t" x="1917" y="362">indexOut(1)</text>
<circle class="rt" cx="1989" cy="357" r="4" style="fill:#282828"/>
<circle class="rt" cx="1785" cy="357" r="4"/><circle class="dt" cx="1785" cy="357" r="2"/>
<circle class="ry" cx="1785" cy="381" r="4"/><circle class="dy" cx="1785" cy="381" r="2"/>
<rect class="box" x="1693" y="395" width="76" height="19"/><text class="ax" x="1705" y="409">X</text><rect class="fld" x="1715" y="397" width="29" height="15.5" rx="2"/><text class="v" x="1719" y="409">0.3</text><circle class="vd" cx="1759" cy="405" r="4"/><circle class="dt" cx="1759" cy="405" r="2"/><path class="st" d="M1769,405H1781"/>
<circle class="rt" cx="1785" cy="405" r="4"/>
<rect class="box" x="1693" y="419" width="76" height="19"/><text class="ax" x="1705" y="433">X</text><rect class="fld" x="1715" y="421" width="29" height="15.5" rx="2"/><text class="v" x="1719" y="433">0.1</text><circle class="vd" cx="1759" cy="429" r="4"/><circle class="dt" cx="1759" cy="429" r="2"/><path class="st" d="M1769,429H1781"/>
<circle class="rt" cx="1785" cy="429" r="4"/>
<rect class="box" x="1596" y="443" width="173" height="19"/><text class="ax" x="1608" y="457">X</text><rect class="fld" x="1619" y="445" width="29" height="15.5" rx="2"/><text class="v" x="1623" y="457">0</text><text class="ax" x="1657" y="457">Y</text><rect class="fld" x="1667" y="445" width="29" height="15.5" rx="2"/><text class="v" x="1671" y="457">0</text><text class="ax" x="1705" y="457">Z</text><rect class="fld" x="1715" y="445" width="29" height="15.5" rx="2"/><text class="v" x="1719" y="457">1</text><circle class="vd" cx="1759" cy="453" r="4"/><circle class="dy" cx="1759" cy="453" r="2"/><path class="so" d="M1769,453H1781"/>
<circle class="ry" cx="1785" cy="453" r="4"/>
<rect class="box" x="1693" y="467" width="76" height="19"/><text class="ax" x="1705" y="481">X</text><rect class="fld" x="1715" y="469" width="29" height="15.5" rx="2"/><text class="v" x="1719" y="481">90</text><circle class="vd" cx="1759" cy="477" r="4"/><circle class="dt" cx="1759" cy="477" r="2"/><path class="st" d="M1769,477H1781"/>
<circle class="rt" cx="1785" cy="477" r="4"/>
<rect class="box" x="1596" y="491" width="173" height="19"/><text class="ax" x="1608" y="505">X</text><rect class="fld" x="1619" y="493" width="29" height="15.5" rx="2"/><text class="v" x="1623" y="505">0.1</text><text class="ax" x="1657" y="505">Y</text><rect class="fld" x="1667" y="493" width="29" height="15.5" rx="2"/><text class="v" x="1671" y="505">0.1</text><text class="ax" x="1705" y="505">Z</text><rect class="fld" x="1715" y="493" width="29" height="15.5" rx="2"/><text class="v" x="1719" y="505">0.1</text><circle class="vd" cx="1759" cy="501" r="4"/><circle class="dy" cx="1759" cy="501" r="2"/><path class="so" d="M1769,501H1781"/>
<circle class="ry" cx="1785" cy="501" r="4"/>
<rect class="box" x="1596" y="515" width="173" height="19"/><text class="ax" x="1608" y="529">X</text><rect class="fld" x="1619" y="517" width="29" height="15.5" rx="2"/><text class="v" x="1623" y="529">0.3</text><text class="ax" x="1657" y="529">Y</text><rect class="fld" x="1667" y="517" width="29" height="15.5" rx="2"/><text class="v" x="1671" y="529">0.3</text><text class="ax" x="1705" y="529">Z</text><rect class="fld" x="1715" y="517" width="29" height="15.5" rx="2"/><text class="v" x="1719" y="529">0.3</text><circle class="vd" cx="1759" cy="525" r="4"/><circle class="dy" cx="1759" cy="525" r="2"/><path class="so" d="M1769,525H1781"/>
<circle class="ry" cx="1785" cy="525" r="4"/>
<rect class="box" x="1693" y="539" width="76" height="19"/><text class="ax" x="1705" y="553">X</text><rect class="fld" x="1715" y="541" width="29" height="15.5" rx="2"/><text class="v" x="1719" y="553">0.1</text><circle class="vd" cx="1759" cy="549" r="4"/><circle class="dt" cx="1759" cy="549" r="2"/><path class="st" d="M1769,549H1781"/>
<circle class="rt" cx="1785" cy="549" r="4"/>
<rect class="box" x="1693" y="563" width="76" height="19"/><text class="ax" x="1705" y="577">X</text><rect class="fld" x="1715" y="565" width="29" height="15.5" rx="2"/><text class="v" x="1719" y="577">32</text><circle class="vd" cx="1759" cy="573" r="4"/><circle class="dt" cx="1759" cy="573" r="2"/><path class="st" d="M1769,573H1781"/>
<circle class="rt" cx="1785" cy="573" r="4"/>
<rect class="box" x="1693" y="587" width="76" height="19"/><text class="ax" x="1705" y="601">X</text><rect class="fld" x="1715" y="589" width="29" height="15.5" rx="2"/><text class="v" x="1719" y="601">0</text><circle class="vd" cx="1759" cy="597" r="4"/><circle class="dt" cx="1759" cy="597" r="2"/><path class="st" d="M1769,597H1781"/>
<circle class="rt" cx="1785" cy="597" r="4"/>
</g>

<g id="connectors">
<path class="eo" d="M0,118 L72,66 H95" mask="url(#m19)"/>
<path class="eo" d="M102,256 H122 Q127,256 127,261 V366 Q127,371 132,371 H151"/>
<path class="et" d="M0,345 L140,347 H151"/>
<path class="e" d="M282,66 H312"/>
<path class="e" d="M357,66 H366 L712,74.5 H723"/>
<path class="e" d="M357,66 H376 Q381,66 381,71 V254 Q381,259 386,259 H405"/>
<path class="e" d="M768,74.5 H777 L1120,80.5 H1129"/>
<path class="e" d="M768,74.5 H786 Q791,74.5 791,79.5 V259 Q791,264 796,264 H813"/>
<path class="e" d="M1174,80.5 H1183 L1527,86.5 H1536"/>
<path class="e" d="M1174,80.5 H1192 Q1197,80.5 1197,85.5 V263 Q1197,268 1202,268 H1219"/>
<path class="e" d="M1581,86.5 H1600 Q1605,86.5 1605,91.5 V264 Q1605,269 1610,269 H1629"/>
<path class="e" d="M510,259 H529 Q534,259 534,264 V371 Q534,376 539,376 H560"/>
<path class="e" d="M918,264 H937 Q942,264 942,269 V376 Q942,381 947,381 H967"/>
<path class="e" d="M1324,268 H1343 Q1348,268 1348,273 V376 Q1348,381 1353,381 H1374"/>
<path class="e" d="M1734,269 H1752 Q1757,269 1757,274 V376 Q1757,381 1762,381 H1781"/>
<path class="e" d="M363,347 H375 L548,352 H560"/>
<path class="e" d="M772,352 H784 L955,357 H967"/>
<path class="e" d="M1179,357 H1374"/>
<path class="e" d="M1586,357 H1781"/>
</g>
</svg>
